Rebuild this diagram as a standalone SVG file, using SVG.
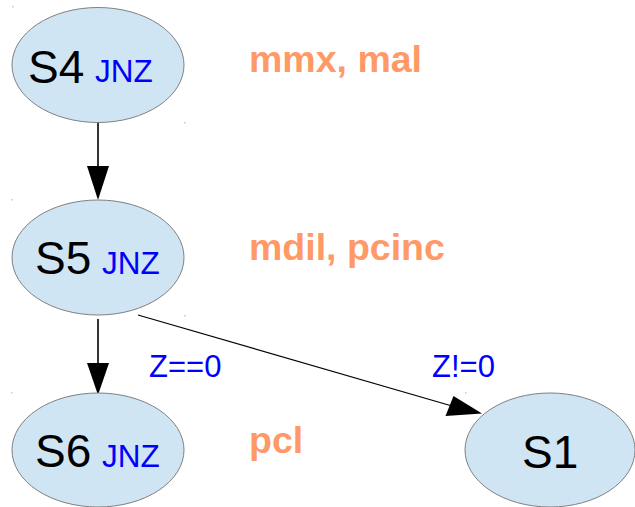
<svg xmlns="http://www.w3.org/2000/svg" width="635" height="507" viewBox="0 0 635 507">
<style>
.node{fill:#cfe5f3;stroke:#808080;stroke-width:1}
.nm{font-family:"Liberation Sans",Arial,sans-serif;font-size:46px;fill:#000}
.jnz{font-family:"Liberation Sans",Arial,sans-serif;font-size:31.5px;fill:#0000ff}
.note{font-family:"Liberation Sans",Arial,sans-serif;font-size:37.5px;font-weight:bold;fill:#ff9966}
.cond{font-family:"Liberation Sans",Arial,sans-serif;font-size:31px;fill:#0000ff}
.dot{fill:#c8c8c8}
</style>
<rect width="635" height="507" fill="#ffffff"/>
<g id="connectors">
  <line x1="98" y1="123" x2="98" y2="167" stroke="#333333" stroke-width="2"/>
  <polygon points="87,166 109,166 98,200" fill="#000"/>
  <line x1="98" y1="319" x2="98" y2="364" stroke="#333333" stroke-width="2"/>
  <polygon points="87,363 109,363 98,395" fill="#000"/>
  <line x1="138" y1="315" x2="452" y2="406" stroke="#000" stroke-width="1.2"/>
  <polygon points="445.5,416 453.5,396 482,413.5" fill="#000"/>
  <text class="cond" x="149" y="377">Z==0</text>
  <text class="cond" x="432" y="377">Z!=0</text>
</g>
<g id="S4">
  <ellipse class="node" cx="98" cy="65" rx="86" ry="57.5"/>
  <text class="nm" x="28" y="83">S4</text>
  <text class="jnz" x="95" y="82">JNZ</text>
</g>
<g id="S5">
  <ellipse class="node" cx="98" cy="257.5" rx="86" ry="57.5"/>
  <text class="nm" x="35" y="274">S5</text>
  <text class="jnz" x="102" y="274">JNZ</text>
</g>
<g id="S6">
  <ellipse class="node" cx="98" cy="450" rx="86" ry="57"/>
  <text class="nm" x="35" y="467">S6</text>
  <text class="jnz" x="102" y="467">JNZ</text>
</g>
<g id="S1">
  <ellipse class="node" cx="550" cy="450" rx="85" ry="57"/>
  <text class="nm" x="522" y="468">S1</text>
</g>
<g id="notes">
  <text class="note" x="249" y="72">mmx, mal</text>
  <text class="note" x="249" y="260">mdil, pcinc</text>
  <text class="note" x="249" y="453">pcl</text>
</g>
<g id="marks">
  <rect class="dot" x="12" y="6" width="1.5" height="1.5"/>
  <rect class="dot" x="184" y="122" width="1.5" height="1.5"/>
  <rect class="dot" x="11" y="199" width="1.5" height="1.5"/>
  <rect class="dot" x="184" y="315" width="1.5" height="1.5"/>
  <rect class="dot" x="11" y="392" width="1.5" height="1.5"/>
  <rect class="dot" x="465" y="392" width="1.5" height="1.5"/>
</g>
</svg>
